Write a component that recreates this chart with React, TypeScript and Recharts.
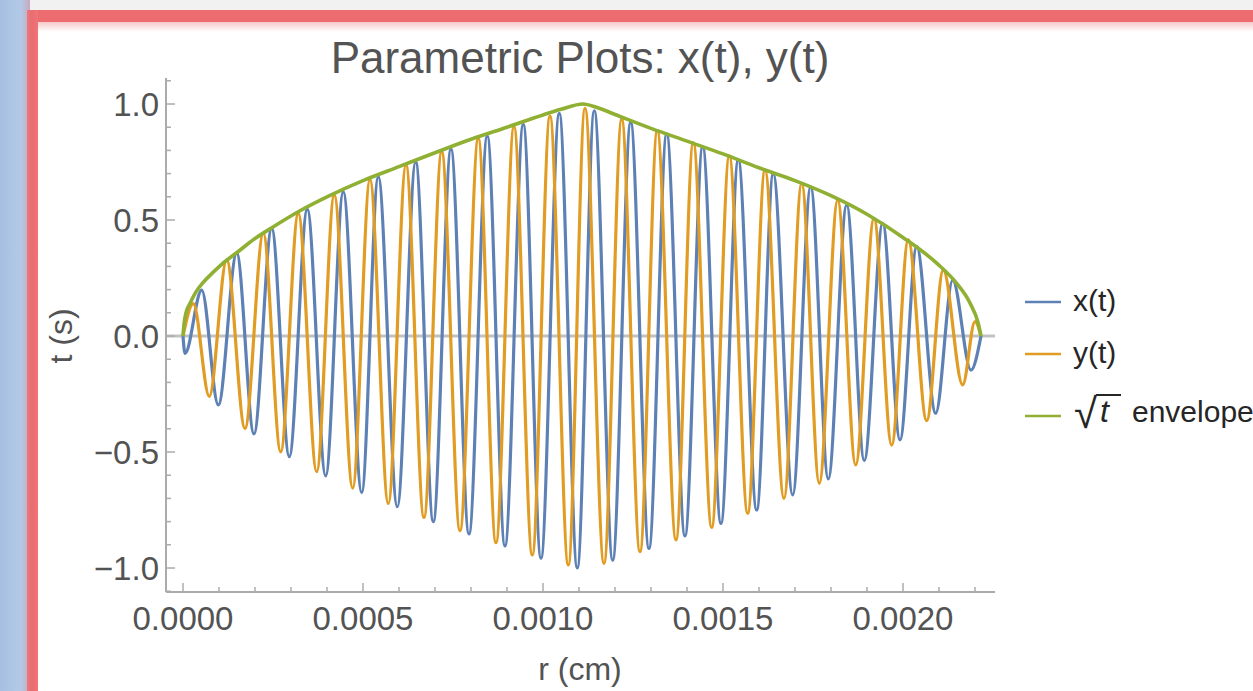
import React from 'react';
import { LineChart, Line, XAxis, YAxis, ReferenceLine } from 'recharts';

// ---- data (r in cm, t in s) ----
const xOfT: [number, number][] = [
  [0, 0], [0.0000056, -0.075], [0.0000519, 0.198], [0.0000981, -0.297], [0.0001492, 0.357],
  [0.0001972, -0.422], [0.0002464, 0.464], [0.0002953, -0.52], [0.0003453, 0.547],
  [0.0003964, -0.603], [0.0004453, 0.622], [0.0004964, -0.675], [0.0005425, 0.687],
  [0.0005953, -0.736], [0.0006464, 0.751], [0.0006953, -0.8], [0.0007444, 0.806],
  [0.0007944, -0.853], [0.0008453, 0.862], [0.0008944, -0.905], [0.0009453, 0.912],
  [0.0009944, -0.958], [0.0010453, 0.96], [0.0010953, -1.0], [0.0011425, 0.971],
  [0.0011936, -0.966], [0.0012436, 0.921], [0.0012944, -0.916], [0.0013436, 0.871],
  [0.0013944, -0.862], [0.0014436, 0.816], [0.0014944, -0.808], [0.0015425, 0.759],
  [0.0015936, -0.75], [0.0016397, 0.7], [0.0016936, -0.685], [0.0017436, 0.644],
  [0.0017925, -0.616], [0.0018436, 0.565], [0.0018925, -0.537], [0.0019436, 0.486],
  [0.0019917, -0.448], [0.0020381, 0.385], [0.0020908, -0.333], [0.0021381, 0.241],
  [0.0021889, -0.147], [0.0022167, 0],
];

const yOfT: [number, number][] = [
  [0, 0], [0.0000286, 0.14], [0.0000731, -0.26], [0.0001214, 0.328], [0.0001722, -0.398],
  [0.0002231, 0.443], [0.0002714, -0.499], [0.0003203, 0.529], [0.0003714, -0.585],
  [0.0004203, 0.608], [0.0004714, -0.656], [0.0005194, 0.675], [0.0005703, -0.722],
  [0.0006194, 0.737], [0.0006694, -0.782], [0.0007186, 0.795], [0.0007694, -0.839],
  [0.0008203, 0.852], [0.0008694, -0.891], [0.0009194, 0.902], [0.0009703, -0.944],
  [0.0010194, 0.948], [0.0010703, -0.987], [0.0011167, 0.981], [0.0011694, -0.98],
  [0.0012186, 0.934], [0.0012694, -0.93], [0.0013175, 0.885], [0.0013694, -0.879],
  [0.0014175, 0.833], [0.0014686, -0.825], [0.0015175, 0.776], [0.0015686, -0.764],
  [0.0016167, 0.716], [0.0016694, -0.7], [0.0017186, 0.658], [0.0017675, -0.635],
  [0.0018186, 0.586], [0.0018686, -0.556], [0.0019194, 0.507], [0.0019686, -0.47],
  [0.0020147, 0.414], [0.0020658, -0.365], [0.0021119, 0.284], [0.0021658, -0.211],
  [0.0022, 0.062], [0.0022167, 0],
];

const envelope: [number, number][] = [
  [0, 0], [0.0000028, 0.05], [0.0000083, 0.1], [0.0000194, 0.14], [0.0000361, 0.19],
  [0.0000556, 0.23], [0.0000806, 0.27], [0.0001083, 0.31], [0.00015, 0.36], [0.0002, 0.42],
  [0.00025, 0.47], [0.000325, 0.54], [0.0004, 0.6], [0.0005, 0.67], [0.0006, 0.73],
  [0.0007, 0.79], [0.0008, 0.848], [0.0009, 0.9], [0.001, 0.953], [0.00105, 0.977],
  [0.001111, 1.0], [0.00115, 0.985], [0.0012, 0.955], [0.0013, 0.895], [0.0014, 0.84],
  [0.0015, 0.785], [0.0016, 0.725], [0.0017, 0.67], [0.0018, 0.605], [0.0019, 0.525],
  [0.002, 0.425], [0.0020944, 0.313], [0.0021489, 0.227], [0.0021861, 0.142],
  [0.0022090, 0.055], [0.0022167, 0],
];

const xTicks = [
  0, 0.0001, 0.0002, 0.0003, 0.0004, 0.0005, 0.0006, 0.0007, 0.0008, 0.0009, 0.001,
  0.0011, 0.0012, 0.0013, 0.0014, 0.0015, 0.0016, 0.0017, 0.0018, 0.0019, 0.002, 0.0021, 0.0022,
];
const yTicks = [
  -1.1, -1.0, -0.9, -0.8, -0.7, -0.6, -0.5, -0.4, -0.3, -0.2, -0.1, 0,
  0.1, 0.2, 0.3, 0.4, 0.5, 0.6, 0.7, 0.8, 0.9, 1.0, 1.1,
];

const toPts = (a: [number, number][]) => a.map(([r, t]) => ({ r, t }));
const xData = toPts(xOfT);
const yData = toPts(yOfT);
const envData = toPts(envelope);

const FONT = '"Liberation Sans", Arial, Helvetica, sans-serif';
const BLUE = '#5E81B5';
const ORANGE = '#E19C24';
const GREEN = '#8FB032';
const AXIS = '#ababab';
const LABEL = '#535353';

const XTick = (props: any) => {
  const { x, y, payload } = props;
  const v = payload.value as number;
  const major = Math.abs(v / 0.0005 - Math.round(v / 0.0005)) < 1e-6;
  return (
    <g>
      <line x1={x} x2={x} y1={y} y2={y - (major ? 9 : 5)} stroke={AXIS} strokeWidth={1.5} />
      {major && (
        <text x={x} y={y + 38} textAnchor="middle" fontSize={33} fill={LABEL} fontFamily={FONT}>
          {v.toFixed(4)}
        </text>
      )}
    </g>
  );
};

const YTick = (props: any) => {
  const { x, y, payload } = props;
  const v = payload.value as number;
  const major = Math.abs(v * 2 - Math.round(v * 2)) < 1e-6;
  const label = v < 0 ? '\u2212' + Math.abs(v).toFixed(1) : v.toFixed(1);
  return (
    <g>
      <line x1={x} x2={x + (major ? 9 : 5)} y1={y} y2={y} stroke={AXIS} strokeWidth={1.5} />
      {major && (
        <text x={x - 7} y={y + 12} textAnchor="end" fontSize={33} fill={LABEL} fontFamily={FONT}>
          {label}
        </text>
      )}
    </g>
  );
};

export default function App() {
  return (
    <div style={{ position: 'absolute', left: 0, top: 0, width: 1253, height: 691, overflow: 'hidden', background: '#ffffff' }}>
      {/* frame decorations */}
      <div style={{ position: 'absolute', left: 0, top: 0, width: 1253, height: 11, background: '#f1f1f1' }} />
      <div style={{ position: 'absolute', left: 0, top: 0, width: 30, height: 691, background: 'linear-gradient(90deg, #a6c0e2 0%, #b3c9e7 70%, #c9a9bd 100%)' }} />
      <div style={{ position: 'absolute', left: 27, top: 10, width: 1226, height: 12, background: '#ec6c70' }} />
      <div style={{ position: 'absolute', left: 38, top: 22, width: 1215, height: 10, background: 'linear-gradient(180deg, #f6c9ca 0%, #ffffff 100%)' }} />
      <div style={{ position: 'absolute', left: 27, top: 10, width: 11, height: 681, background: 'linear-gradient(90deg, #e77a80 0%, #ec6c70 40%, #ee7477 100%)' }} />

      <div style={{ position: 'absolute', left: 0, top: 0 }}>
        <LineChart width={1253} height={691} margin={{ top: 78, right: 258, bottom: 39, left: 66 }}>
          <XAxis
            dataKey="r"
            type="number"
            domain={[-0.0000472, 0.0022556]}
            allowDataOverflow
            ticks={xTicks}
            interval={0}
            tickSize={0}
            tickMargin={0}
            height={60}
            axisLine={{ stroke: AXIS, strokeWidth: 2 }}
            tickLine={false}
            tick={<XTick />}
          />
          <YAxis
            type="number"
            domain={[-1.1034, 1.1121]}
            allowDataOverflow
            ticks={yTicks}
            interval={0}
            tickSize={0}
            tickMargin={0}
            width={100}
            axisLine={{ stroke: AXIS, strokeWidth: 2 }}
            tickLine={false}
            tick={<YTick />}
          />
          <ReferenceLine y={0} stroke="#c2c2c2" strokeWidth={3} />
          <Line data={xData} dataKey="t" type="monotone" stroke={BLUE} strokeWidth={3.2} dot={false} isAnimationActive={false} />
          <Line data={yData} dataKey="t" type="monotone" stroke={ORANGE} strokeWidth={3.2} dot={false} isAnimationActive={false} />
          <Line data={envData} dataKey="t" type="monotone" stroke={GREEN} strokeWidth={3.6} dot={false} isAnimationActive={false} />
        </LineChart>
      </div>

      <svg width={1253} height={691} style={{ position: 'absolute', left: 0, top: 0, pointerEvents: 'none' }}>
        <text x={580} y={73} textAnchor="middle" fontSize={44} fill={LABEL} fontFamily={FONT}>
          Parametric Plots: x(t), y(t)
        </text>
        <text x={580} y={680} textAnchor="middle" fontSize={32} fill={LABEL} fontFamily={FONT}>
          r (cm)
        </text>
        <text x={72} y={336} textAnchor="middle" fontSize={32} fill={LABEL} fontFamily={FONT} transform="rotate(-90 72 336)">
          t (s)
        </text>
        {/* legend */}
        <line x1={1025} x2={1061} y1={302} y2={302} stroke={BLUE} strokeWidth={2.5} />
        <text x={1073} y={311} fontSize={30} fill="#262626" fontFamily={FONT}>x(t)</text>
        <line x1={1025} x2={1061} y1={354} y2={354} stroke={ORANGE} strokeWidth={2.5} />
        <text x={1073} y={363} fontSize={30} fill="#262626" fontFamily={FONT}>y(t)</text>
        <line x1={1025} x2={1061} y1={416} y2={416} stroke={GREEN} strokeWidth={2.5} />
        <text x={1074} y={428} fontSize={42} fill="#262626" fontFamily={FONT}>√</text>
        <line x1={1096} x2={1121} y1={395} y2={395} stroke="#262626" strokeWidth={2} />
        <text x={1100} y={422} fontSize={32} fontStyle="italic" fill="#262626" fontFamily={FONT}>t</text>
        <text x={1132} y={422} fontSize={30} fill="#262626" fontFamily={FONT}>envelope</text>
      </svg>
    </div>
  );
}
